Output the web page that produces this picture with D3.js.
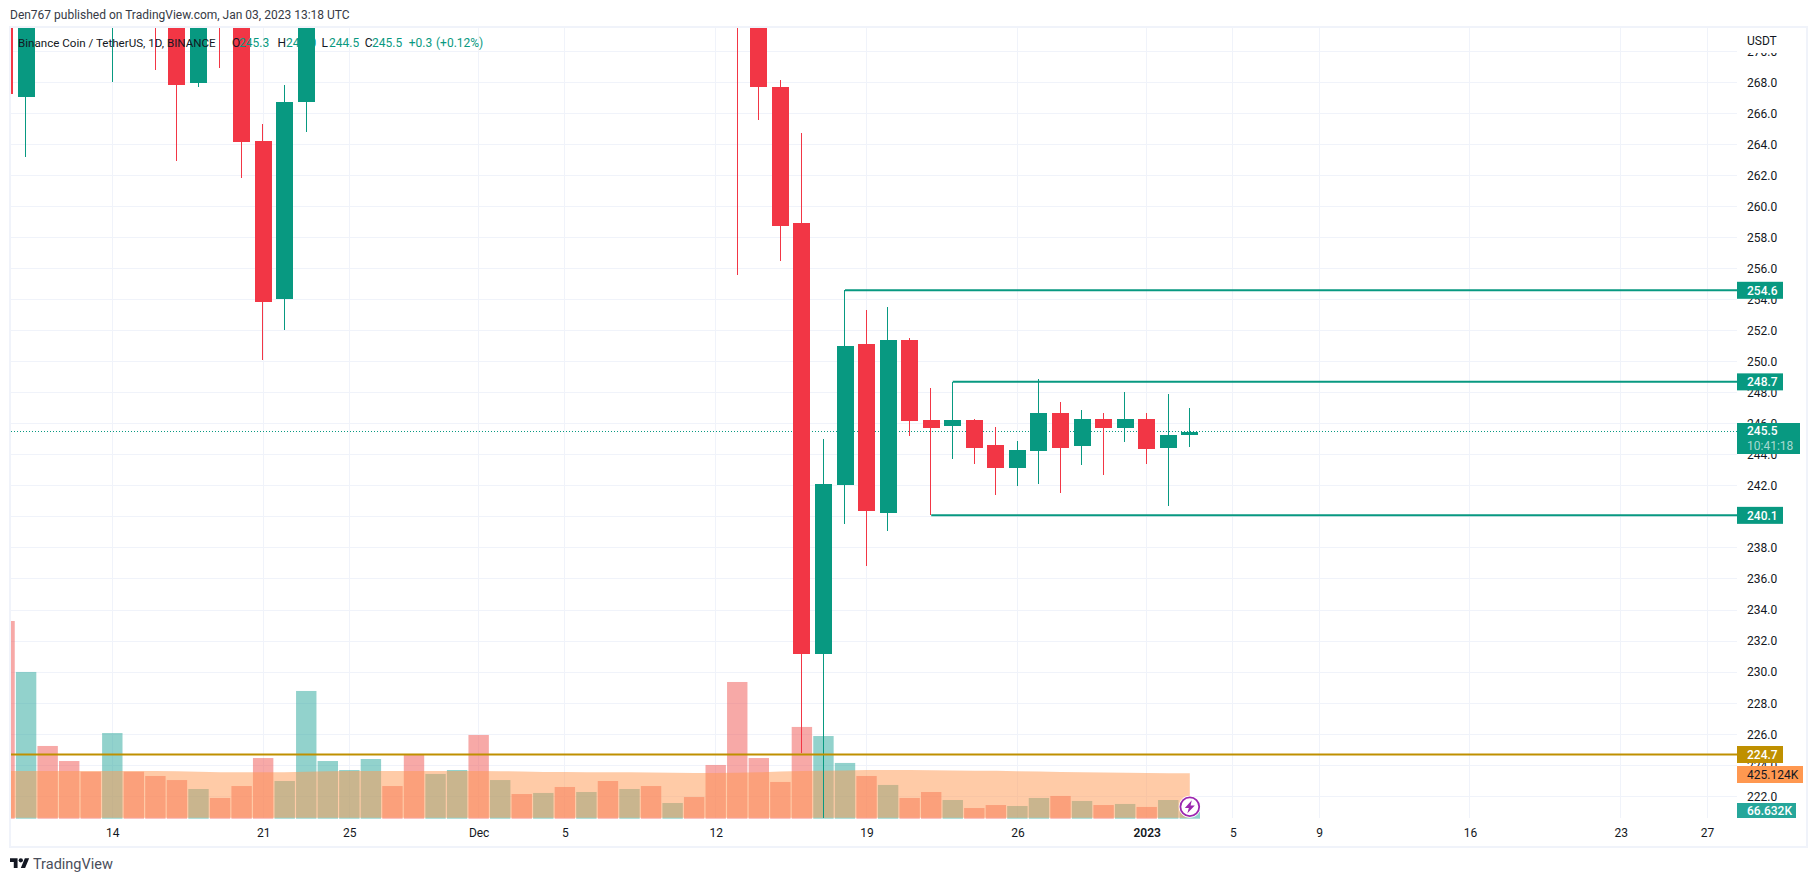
<!DOCTYPE html>
<html><head><meta charset="utf-8">
<script src="https://cdnjs.cloudflare.com/ajax/libs/d3/7.8.5/d3.min.js"></script>
<style>
html,body{margin:0;padding:0;background:#fff;overflow:hidden}
svg{display:block}
text{font-family:Roboto,sans-serif;fill:#131722}
.domain{display:none}
</style></head><body>
<svg id="c" width="1817" height="882"></svg>
<script>
// ---- data ----
const publishLine = "Den767 published on TradingView.com, Jan 03, 2023 13:18 UTC";
const symbolLine = "Binance Coin / TetherUS, 1D, BINANCE";
const legendKeys = ["O","H","L","C"];
const legendVals = ["245.3","247.0","244.5","245.5"];
const legendChange = ["+0.3","(+0.12%)"];

const priceTicks = [270,268,266,264,262,260,258,256,254,252,250,248,246,244,242,240,238,236,234,232,230,228,226,224,222];
const timeTickDates = ["2022-11-14","2022-11-21","2022-11-25","2022-12-01","2022-12-05","2022-12-12","2022-12-19","2022-12-26","2023-01-01","2023-01-05","2023-01-09","2023-01-16","2023-01-23","2023-01-27"];
const timeTickLabels = ["14","21","25","Dec","5","12","19","26","2023","5","9","16","23","27"];

// candles that are at least partly inside the plot (values above the top edge are estimates)
const candleDates = ["2022-11-09","2022-11-10","2022-11-14","2022-11-16","2022-11-17","2022-11-18","2022-11-19","2022-11-20","2022-11-21","2022-11-22","2022-11-23",
 "2022-12-13","2022-12-14","2022-12-15","2022-12-16","2022-12-17","2022-12-18","2022-12-19","2022-12-20","2022-12-21","2022-12-22","2022-12-23","2022-12-24","2022-12-25","2022-12-26","2022-12-27","2022-12-28","2022-12-29","2022-12-30","2022-12-31","2023-01-01","2023-01-02","2023-01-03"];
const opens  = [274,267.07,273,276,274,267.97,275,274,264.22,254.04,266.75, 280,273,267.7,258.96,231.18,242.05,251.14,240.25,251.4,246.24,245.85,246.24,244.63,243.15,244.24,246.69,244.57,246.31,245.73,246.31,244.44,245.27];
const highs  = [276,275,276,278,276,274,277,276,265.31,267.83,275, 282,274,268.15,264.71,245.02,254.62,253.33,253.52,251.52,248.3,248.69,246.31,245.79,244.89,248.88,247.4,246.89,246.69,248.04,246.69,247.92,247.01];
const lows   = [266,263.21,268.04,268.79,262.95,267.7,268.94,261.85,250.11,252.04,264.82, 255.58,265.54,256.5,224.78,220.6,239.54,236.83,239.09,245.21,240.14,243.73,243.41,241.41,241.99,242.12,241.54,243.34,242.7,244.82,243.41,240.7,244.5];
const closes = [267.25,274,275,272,267.83,273,272,264.17,253.87,266.73,274, 273,267.7,258.74,231.18,242.12,251.01,240.38,251.4,246.18,245.73,246.24,244.44,243.15,244.31,246.69,244.44,246.31,245.73,246.31,244.37,245.27,245.5];

// one volume bar per day from 9 Nov 2022 to 3 Jan 2023, in thousands
const volumeStart = "2022-11-09";
const volumes = [1851,1374,681,540,440,802,440,400,362,278,194,306,568,353,1196,540,456,559,306,606,419,456,
 784,362,231,241,297,250,353,278,306,147,203,503,1280,568,344,859,774,522,400,316,194,250,175,100,128,119,194,213,166,128,138,
 110,175,66.632];
const volumeUp = [0,1,0,0,0,1,0,0,0,1,0,0,0,1,1,1,1,1,0,0,1,1,
 0,1,0,1,0,1,0,1,0,1,0,0,0,0,0,0,1,1,0,1,0,0,1,0,0,1,1,0,1,0,1,
 0,1,1];
const volumeMA = [447,447,447,447,447,447,447,446,444,440,436,434,434,436,440,444,446,447,447,447,447,447,
 447,445,441,437,437,436,435,434,432,431,429,428,430,434,442,447,450,452,455,456,455,453,452,450,448,444,441,438,435,432,430,
 428,426,425.124];

const resistanceHigh = {value:254.6,start:"2022-12-18",label:"254.6"};
const resistanceMid  = {value:248.7,start:"2022-12-23",label:"248.7"};
const supportLow     = {value:240.1,start:"2022-12-22",label:"240.1"};
const supportGold    = {value:224.7,label:"224.7"};
const lastPrice = 245.5, countdown = "10:41:18";
const maLabel = "425.124K", volLabel = "66.632K";

// ---- layout and scales ----
const UP="#089981", DOWN="#F23645", GRID="#f0f3fa", GOLD="#BF9000", MAC="#FF9850", VUP="#26A69A", VDOWN="#EF5350";
const L=11,R=1737,T=28,B=818, FS=12, FONT='Roboto,sans-serif';
const parse=d3.utcParse("%Y-%m-%d");
const x=d3.scaleUtc().domain([parse("2022-11-14"),parse("2023-01-27")]).range([112.3,1707]);
const y=d3.scaleLinear().domain([268,222]).range([82.3,796.3]);
const v=d3.scaleLinear().domain([0,1000]).range([818.7,711.9]);
const svg=d3.select("#c");
const defs=svg.append("defs");
defs.append("clipPath").attr("id","plot").append("rect").attr("x",L).attr("y",T).attr("width",R-L).attr("height",B-T+1);
defs.append("clipPath").attr("id","pax2").append("rect").attr("x",0).attr("y",53).attr("width",70).attr("height",B-53);

// frame
svg.append("rect").attr("x",10).attr("y",27).attr("width",1797).attr("height",820).attr("fill","none").attr("stroke",GRID).attr("stroke-width",2);

const plot=svg.append("g").attr("clip-path","url(#plot)");
const snap=d=>Math.floor(d)+.5;
// grid
plot.append("g").selectAll("line").data(priceTicks).join("line")
 .attr("x1",L).attr("x2",R).attr("y1",d=>snap(y(d))).attr("y2",d=>snap(y(d))).attr("stroke",GRID);
plot.append("g").selectAll("line").data(timeTickDates).join("line")
 .attr("x1",d=>snap(x(parse(d)))).attr("x2",d=>snap(x(parse(d)))).attr("y1",T).attr("y2",B).attr("stroke",GRID);

// volume
const vStart=parse(volumeStart);
const dayOf=i=>d3.utcDay.offset(vStart,i);
plot.append("g").selectAll("rect").data(volumes).join("rect")
 .attr("x",(d,i)=>x(dayOf(i))-10.2).attr("width",20.4)
 .attr("y",d=>v(d)).attr("height",d=>v(0)-v(d))
 .attr("fill",(d,i)=>volumeUp[i]?VUP:VDOWN).attr("fill-opacity",.5);
// volume moving average
const area=d3.area().x((d,i)=>x(dayOf(i))).y0(817.7).y1(d=>v(d));
plot.append("path").datum(volumeMA).attr("d",area).attr("fill",MAC).attr("fill-opacity",.5);

// last price dotted line
plot.append("line").attr("x1",L).attr("x2",R).attr("y1",snap(y(lastPrice))).attr("y2",snap(y(lastPrice)))
 .attr("stroke",UP).attr("stroke-dasharray","1 2").attr("shape-rendering","crispEdges");

// candles
const cg=plot.append("g").attr("shape-rendering","crispEdges");
const idx=candleDates.map((d,i)=>i);
const col=i=>closes[i]>=opens[i]?UP:DOWN;
cg.selectAll("line").data(idx).join("line")
 .attr("x1",i=>snap(x(parse(candleDates[i]))-.2)).attr("x2",i=>snap(x(parse(candleDates[i]))-.2))
 .attr("y1",i=>y(highs[i])).attr("y2",i=>y(lows[i])).attr("stroke",col);
cg.selectAll("rect").data(idx).join("rect")
 .attr("x",i=>Math.round(x(parse(candleDates[i]))-8.5)).attr("width",17)
 .attr("y",i=>y(Math.max(opens[i],closes[i])))
 .attr("height",i=>Math.max(1,Math.abs(y(opens[i])-y(closes[i])))).attr("fill",col);

// horizontal rays
const rays=[resistanceHigh,resistanceMid,supportLow];
plot.append("g").selectAll("line").data(rays).join("line")
 .attr("x1",d=>x(parse(d.start))).attr("x2",R).attr("y1",d=>y(d.value)).attr("y2",d=>y(d.value))
 .attr("stroke",UP).attr("stroke-width",2);
plot.append("line").attr("x1",L).attr("x2",R).attr("y1",y(supportGold.value)).attr("y2",y(supportGold.value))
 .attr("stroke",GOLD).attr("stroke-width",2);

// price axis
const pAxis=d3.axisRight(y).tickValues(priceTicks).tickFormat(d3.format(".1f")).tickSize(0).tickPadding(10);
const pg=svg.append("g").attr("transform",`translate(${R},0)`).attr("clip-path","url(#pax2)").call(pAxis);
pg.selectAll("text").style("font-size",FS+"px").style("font-family",FONT).attr("fill","#131722");
svg.append("text").attr("x",1747).attr("y",45).attr("font-size",FS).text("USDT");

// time axis
const tAxis=d3.axisBottom(x).tickValues(timeTickDates.map(parse)).tickFormat((d,i)=>timeTickLabels[i]).tickSize(0).tickPadding(10);
const tg=svg.append("g").attr("transform",`translate(0,${B})`).call(tAxis);
tg.selectAll("text").style("font-size",FS+"px").style("font-family",FONT).attr("fill","#131722")
 .attr("font-weight",(d,i)=>timeTickLabels[i]==="2023"?600:400);

// price tags
function tag(label,color,w,textColor,h0,h1){
 const g=svg.append("g");
 g.append("rect").attr("x",R).attr("y",h0).attr("width",w).attr("height",h1-h0).attr("fill",color);
 g.append("text").attr("x",1747).attr("y",(h0+h1)/2+4.5).attr("font-size",FS).attr("font-weight",textColor==="#fff"?500:400).style("fill",textColor).text(label);
}
rays.forEach(d=>{const c=y(d.value);tag(d.label,UP,46,"#fff",c-8.5,c+8.5);});
tag(maLabel,MAC,66,"#131722",766,783);
tag(supportGold.label,GOLD,46,"#fff",746,763);
tag(volLabel,VUP,59,"#fff",803,818);
// last-price tag
svg.append("rect").attr("x",R).attr("y",423).attr("width",63).attr("height",31).attr("fill",UP);
svg.append("text").attr("x",1747).attr("y",435).attr("font-size",FS).attr("font-weight",500).style("fill","#fff").text(lastPrice.toFixed(1));
svg.append("text").attr("x",1747).attr("y",450).attr("font-size",FS).style("fill","#fff").style("fill-opacity",.65).text(countdown);

// header + legend
svg.append("text").attr("x",10).attr("y",19).attr("font-size",12).style("fill","#363A45").text(publishLine);
svg.append("text").attr("x",18).attr("y",46.5).attr("font-size",11.6).text(symbolLine);
const keyX=[232,277.5,321.5,364.7], valX=[239,286,329,372];
legendKeys.forEach((k,i)=>{
 svg.append("text").attr("x",keyX[i]).attr("y",46.5).attr("font-size",FS).text(k);
 svg.append("text").attr("x",valX[i]).attr("y",46.5).attr("font-size",FS).style("fill",UP).text(legendVals[i]);
});
svg.append("text").attr("x",408.7).attr("y",46.5).attr("font-size",FS).style("fill",UP).text(legendChange[0]);
svg.append("text").attr("x",436).attr("y",46.5).attr("font-size",FS).style("fill",UP).text(legendChange[1]);

// lightning badge on the last bar
const bx=x(parse("2023-01-03")), by=806.7;
const badge=svg.append("g").attr("transform",`translate(${bx},${by})`);
badge.append("circle").attr("r",11).attr("fill","#fff");
badge.append("circle").attr("r",9.4).attr("fill","#fff").attr("stroke","#9C27B0").attr("stroke-width",1.8);
badge.append("path").attr("d","M2-6.5L-5 1.2H-1L-2.4 6.5L5-1.2H.8Z").attr("fill","#9C27B0");

// brand
svg.append("path").attr("transform","translate(10,856) scale(.54)")
 .attr("d","M14 22H7V11H0V4h14v18zM28 22h-8l7.5-18h8L28 22z").attr("fill","#131722");
svg.append("circle").attr("cx",10+20*.54).attr("cy",856+8*.54).attr("r",4*.54).attr("fill","#131722");
svg.append("text").attr("x",33).attr("y",869).attr("font-size",14.5).style("fill","#4a4e5a").text("TradingView");
</script></body></html>
